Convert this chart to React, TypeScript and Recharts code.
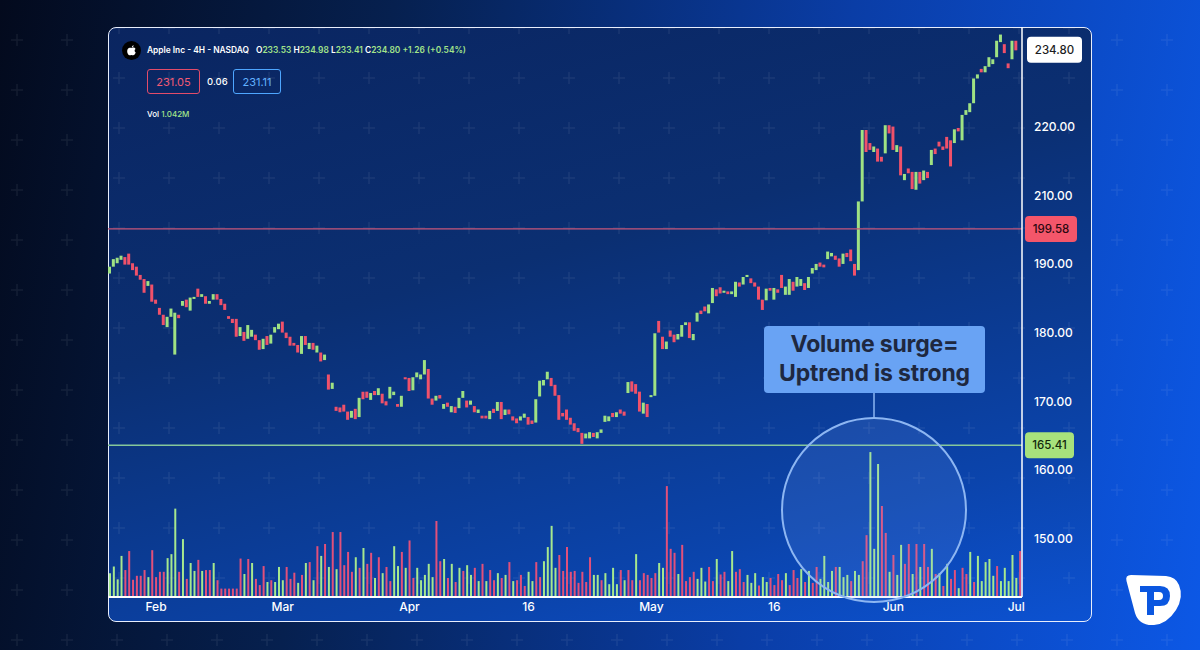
import React from 'react';
import { ComposedChart, Bar, XAxis, YAxis, ReferenceLine, Cell } from 'recharts';

// 4H candles, Feb - Jul (open / close per candle)
const opens = [
  188.6, 189.6, 190.1, 190.6, 191.0, 191.5, 190.1, 189.6, 188.4, 187.8,
  186.8, 187.0, 184.8, 183.6, 182.6, 180.8, 182.3, 176.8, 182.6, 183.9,
  184.8, 183.2, 184.9, 186.4, 185.2, 185.3, 184.2, 184.8, 185.6, 184.9,
  184.2, 182.4, 182.0, 182.0, 179.5, 180.1, 179.1, 179.4, 179.7, 178.9,
  177.6, 179.5, 178.4, 180.0, 180.5, 181.6, 180.0, 179.4, 178.5, 178.2,
  176.9, 179.5, 177.6, 178.5, 177.1, 177.1, 176.0, 173.9, 171.8, 169.2,
  169.1, 169.5, 168.5, 167.6, 168.9, 167.7, 171.4, 171.4, 170.2, 171.5,
  170.9, 171.1, 170.0, 170.4, 170.9, 169.6, 169.2, 173.5, 173.4, 171.6,
  173.5, 173.2, 173.9, 174.7, 170.4, 170.1, 170.9, 168.9, 169.8, 168.4,
  169.2, 169.0, 170.5, 170.1, 169.5, 169.3, 168.3, 167.9, 167.9, 167.4,
  168.9, 168.6, 169.9, 168.0, 168.8, 167.8, 167.5, 167.2, 167.6, 167.7,
  167.2, 166.9, 170.7, 172.3, 173.2, 173.4, 172.4, 170.9, 168.3, 168.8,
  167.6, 166.8, 166.1, 165.4, 164.6, 164.6, 165.4, 164.6, 165.4, 167.0,
  167.1, 168.3, 167.7, 168.8, 168.5, 171.2, 172.9, 172.5, 171.4, 168.2,
  169.6, 170.6, 170.8, 181.7, 179.4, 177.6, 180.3, 179.7, 179.0, 179.4,
  181.1, 181.5, 178.9, 181.6, 183.2, 183.8, 182.8, 184.3, 186.3, 186.6,
  185.8, 186.0, 185.6, 185.2, 187.3, 187.0, 188.1, 187.9, 187.3, 186.7,
  184.8, 184.7, 186.5, 184.8, 186.3, 188.4, 185.5, 185.5, 187.4, 186.7,
  186.8, 187.2, 186.5, 188.6, 189.1, 190.2, 189.9, 190.7, 191.1, 191.2,
  190.8, 190.0, 191.6, 192.1, 190.0, 189.1, 199.1, 209.5, 207.6, 206.3,
  206.8, 205.6, 206.1, 210.2, 210.0, 206.3, 207.1, 202.2, 203.9, 203.4,
  200.8, 203.4, 202.2, 203.4, 204.4, 206.8, 207.8, 207.1, 208.5, 208.0,
  207.6, 209.8, 208.0, 211.7, 212.1, 213.4, 217.0, 218.4, 217.9, 218.7,
  219.1, 220.1, 222.3, 222.0, 219.2, 219.8, 222.5,
];

const closes = [
  189.6, 190.7, 190.9, 191.2, 189.9, 189.9, 189.1, 188.3, 187.7, 185.8,
  187.5, 184.5, 184.2, 182.6, 181.1, 182.3, 183.5, 182.9, 182.1, 184.6,
  183.7, 185.1, 185.2, 185.2, 185.6, 184.2, 184.6, 185.6, 184.8, 184.0,
  183.3, 182.0, 181.4, 179.4, 180.8, 178.8, 181.1, 180.4, 178.9, 177.5,
  179.1, 178.2, 179.7, 180.8, 181.3, 180.0, 179.2, 178.1, 178.1, 177.1,
  179.5, 178.2, 178.5, 177.5, 178.1, 175.8, 176.8, 171.7, 172.7, 168.6,
  168.4, 168.5, 167.3, 168.6, 167.4, 170.5, 170.3, 170.5, 171.2, 170.9,
  171.9, 169.7, 169.4, 172.1, 171.4, 169.2, 170.8, 173.2, 171.5, 173.5,
  174.2, 173.9, 176.0, 170.4, 169.5, 170.8, 170.4, 169.6, 169.2, 169.3,
  168.3, 170.5, 171.5, 169.1, 170.1, 168.4, 168.8, 167.5, 167.5, 168.6,
  168.3, 169.9, 167.4, 168.8, 168.1, 167.2, 166.8, 167.8, 168.2, 166.6,
  166.7, 170.3, 173.0, 173.1, 174.3, 172.2, 170.8, 167.3, 167.8, 167.3,
  166.6, 165.7, 165.5, 163.8, 165.3, 165.5, 164.8, 165.5, 165.9, 167.9,
  167.8, 167.7, 168.4, 168.2, 167.9, 172.8, 171.4, 171.1, 168.5, 169.8,
  167.7, 170.9, 179.9, 180.0, 177.6, 178.7, 179.4, 178.6, 179.8, 181.1,
  181.5, 179.2, 179.8, 182.9, 182.7, 183.1, 184.1, 186.5, 185.3, 185.7,
  186.1, 185.6, 186.0, 187.4, 186.7, 188.1, 188.4, 187.2, 186.7, 184.8,
  183.3, 186.4, 186.1, 186.5, 185.8, 186.5, 186.7, 187.8, 186.1, 188.1,
  187.8, 186.2, 188.1, 189.4, 190.0, 189.6, 189.5, 191.8, 191.6, 190.6,
  189.6, 191.5, 191.0, 190.4, 188.3, 199.1, 209.5, 206.3, 206.6, 207.1,
  204.9, 204.9, 210.2, 209.0, 206.6, 207.3, 202.9, 203.1, 203.2, 200.9,
  203.4, 201.7, 203.6, 202.5, 206.6, 206.0, 207.1, 206.6, 206.8, 204.2,
  209.6, 209.3, 211.7, 212.4, 213.4, 217.0, 217.6, 217.9, 218.8, 220.1,
  219.8, 222.5, 223.4, 220.7, 218.5, 222.5, 221.1,
];

// volume in millions
const volumes = [
  0.54, 0.69, 0.40, 0.93, 0.61, 1.04, 0.39, 0.48, 0.48, 0.61,
  0.45, 1.06, 0.45, 0.57, 0.57, 0.88, 0.97, 2.00, 0.57, 1.31,
  0.41, 0.77, 0.59, 0.84, 0.59, 0.61, 0.61, 0.77, 0.38, 0.19,
  0.19, 0.19, 0.19, 0.19, 0.87, 0.52, 0.86, 0.77, 0.41, 0.27,
  0.70, 0.34, 0.38, 0.34, 0.68, 0.38, 0.68, 0.41, 0.55, 0.32,
  0.50, 0.77, 0.79, 0.38, 1.15, 0.93, 1.20, 0.68, 1.47, 0.63,
  1.47, 0.72, 1.02, 0.57, 0.90, 0.66, 1.11, 0.75, 1.00, 0.43,
  0.90, 0.54, 0.68, 0.36, 1.15, 0.70, 1.02, 0.66,
  1.28, 0.43, 0.66, 0.38, 0.50, 0.75, 0.45, 1.72, 0.81, 0.86,
  0.43, 0.75, 0.34, 0.66, 0.59, 0.72, 0.50, 0.66, 0.36, 0.75,
  0.36, 0.61, 0.38, 0.54, 0.43, 0.50, 0.79, 0.36, 0.38, 0.50,
  0.25, 0.57, 0.36, 0.79, 0.45, 0.81, 1.13, 1.61, 0.66, 0.95,
  0.59, 1.13, 0.57, 0.59, 0.32, 0.57, 0.34, 0.90, 0.50, 0.50,
  0.38, 0.54, 0.29, 0.66, 0.29, 0.61, 0.38, 0.61, 0.38, 0.97,
  0.38, 0.54, 0.50, 0.43, 0.54, 0.77, 0.66, 2.51, 1.09, 1.00,
  0.52, 1.18, 0.36, 0.45, 0.57, 0.41, 0.66,
  0.35, 0.68, 0.36, 0.86, 0.51, 0.57, 0.36, 1.04, 0.57, 0.63,
  0.34, 0.50, 0.32, 0.54, 0.26, 0.45, 0.34, 0.43, 0.27, 0.52,
  0.38, 0.54, 0.27, 0.61, 0.43, 0.63, 0.34, 0.59, 0.32, 0.68,
  0.41, 0.93, 0.34, 0.59, 0.68, 0.68, 0.45, 0.50, 0.36, 0.59,
  0.50, 0.81, 1.40, 3.28, 1.09, 3.01, 2.06, 1.45, 0.57, 0.95,
  0.50, 1.18, 0.75, 1.20, 0.52, 1.20, 0.68, 1.20, 0.68, 1.09,
  0.52, 0.54, 0.25, 0.75, 0.41, 0.61, 0.20, 0.66, 0.52, 1.02,
  0.34, 0.93, 0.36, 0.79, 0.86, 0.48, 0.70, 0.36, 0.66, 0.36,
  0.95, 0.43, 1.04,
];

// 1 = up (green) volume bar, 0 = down (red)
const volumeUp = [
  1, 1, 1, 1, 0, 0, 0, 0, 0, 0, 1, 0, 0, 0, 0, 1, 1, 1, 0, 1,
  0, 1, 1, 0, 1, 0, 0, 1, 0, 0, 0, 0, 0, 0, 0, 1, 0, 1, 0, 0,
  0, 1, 0, 1, 1, 1, 0, 0, 0, 1, 0, 1, 0, 1, 0, 1, 0, 1, 0, 1,
  0, 0, 0, 0, 1, 0, 1, 0, 0, 1, 0, 1, 0, 0, 1, 1, 0, 1,
  0, 0, 1, 1, 1, 1, 1, 0, 0, 1, 0, 1, 0, 1, 0, 1, 1, 0, 1, 0,
  1, 0, 0, 1, 0, 1, 0, 1, 0, 0, 0, 1, 1, 0, 0, 1, 1, 1, 1, 0,
  0, 0, 0, 0, 0, 0, 0, 0, 1, 1, 0, 1, 1, 1, 1, 0, 1, 0, 0, 1,
  0, 0, 0, 0, 0, 1, 1, 0, 0, 0, 1, 0, 0, 0, 0, 1, 1,
  1, 0, 0, 1, 0, 0, 1, 1, 0, 0, 0, 1, 1, 1, 0, 1, 1, 0, 0, 0,
  0, 1, 0, 0, 0, 1, 0, 1, 0, 0, 1, 1, 1, 1, 0, 1, 1, 1, 0, 1,
  1, 0, 0, 1, 1, 1, 0, 0, 1, 0, 1, 1, 0, 0, 1, 0, 1, 0, 0, 1,
  0, 1, 0, 1, 0, 0, 1, 0, 0, 1, 0, 1, 1, 1, 1, 1, 0, 1, 1, 1,
  1, 1, 0,
];

const dateTickIdx = [12, 45, 78, 109, 141, 173, 204, 236];
const dateTickText = ['Feb', 'Mar', 'Apr', '16', 'May', '16', 'Jun', 'Jul'];

const priceTicks = [150, 160, 170, 180, 190, 200, 210];
const priceTickText = ['150.00', '160.00', '170.00', '180.00', '190.00', '210.00', '220.00'];

const levelValues = [195.1, 163.6];
const levelTexts = ['199.58', '165.41'];
const lastPrice = 221.2;
const lastPriceText = '234.80';

const GREEN = '#9fe283';
const RED = '#f0516a';
const VOL_GREEN = '#a6e88e';
const VOL_RED = '#e2507a';

const rows = volumes.map((v, i) => ({
  i,
  vol: v,
  body: i < opens.length ? [Math.min(opens[i], closes[i]), Math.max(opens[i], closes[i])] : undefined,
}));

function PriceBadge(props: any) {
  const { viewBox, text, fill, color, w, dx } = props;
  const x = viewBox.x + viewBox.width + dx;
  const y = viewBox.y;
  return (
    <g>
      <rect x={x} y={y - 13} width={w} height={26} rx={4} fill={fill} />
      <text x={x + w / 2} y={y} dy="0.36em" textAnchor="middle" fontSize={11.5} fontWeight={500} fill={color}>
        {text}
      </text>
    </g>
  );
}

function Crosses({ w, h, ox, oy }: { w: number; h: number; ox: number; oy: number }) {
  const marks = [];
  for (let x = ox; x < w; x += 50) {
    for (let y = oy; y < h; y += 50) {
      marks.push(<path key={x + '-' + y} d={`M${x - 6} ${y}H${x + 6}M${x} ${y - 6}V${y + 6}`} />);
    }
  }
  return (
    <svg width={w} height={h} style={{ position: 'absolute', left: 0, top: 0 }}>
      <g stroke="#ffffff" strokeOpacity={0.07} strokeWidth={1.5}>{marks}</g>
    </svg>
  );
}

function AppleLogo() {
  return (
    <svg width={19} height={19} viewBox="0 0 18 18" style={{ position: 'absolute', left: 122, top: 41 }}>
      <circle cx={9} cy={9} r={9} fill="#000" />
      <path
        d="M9.2 6.5C10.2 5.9 12.2 6 12.8 7.6C11.6 8.3 11.7 10.3 13 10.9C12.5 12.3 11.6 13.6 10.6 13.6C9.9 13.6 9.6 13.2 8.9 13.2C8.2 13.2 7.9 13.6 7.2 13.6C6.1 13.6 4.9 11.5 4.9 9.6C4.9 7.6 6.2 6.3 7.6 6.4C8.3 6.4 8.7 6.7 9.2 6.5Z"
        fill="#fff"
      />
      <path d="M9.3 5.9C9.3 4.9 10.1 4.1 11 4C11.1 5 10.2 5.9 9.3 5.9Z" fill="#fff" />
    </svg>
  );
}

export default function App() {
  const font = 'Inter, "Noto Sans", sans-serif';
  return (
    <div
      style={{
        position: 'absolute',
        left: 0,
        top: 0,
        width: 1200,
        height: 650,
        overflow: 'hidden',
        fontFamily: font,
        background: 'linear-gradient(100deg, #030a1d 0%, #06204f 30%, #0a3da6 65%, #0c58e6 100%)',
      }}
    >
      <Crosses w={1200} h={650} ox={17} oy={40} />

      {/* chart panel */}
      <div
        style={{
          position: 'absolute',
          left: 108,
          top: 27,
          width: 984,
          height: 595,
          boxSizing: 'border-box',
          border: '1.5px solid #e8eefc',
          borderRadius: 8,
          overflow: 'hidden',
          background: 'linear-gradient(165deg, #0a2560 0%, #0b2f72 40%, #0b44ac 80%, #0c52d2 100%)',
        }}
      >
        <Crosses w={984} h={595} ox={10} oy={0} />
      </div>

      <div style={{ position: 'absolute', left: 108, top: 27 }}>
        <ComposedChart width={984} height={596} data={rows} margin={{ top: 0, right: 0, bottom: 0, left: 0 }}>
          <XAxis
            xAxisId="v"
            dataKey="i"
            ticks={dateTickIdx}
            interval={0}
            tickFormatter={(v: number) => dateTickText[dateTickIdx.indexOf(v)]}
            axisLine={{ stroke: '#ffffff', strokeWidth: 2 }}
            tickLine={false}
            tickSize={0}
            tickMargin={5}
            height={26}
            tick={{ fill: '#ffffff', fontSize: 12, fontWeight: 500, fontFamily: font }}
          />
          <XAxis xAxisId="c" dataKey="i" hide height={0} />
          <YAxis
            yAxisId="price"
            orientation="right"
            domain={[141.5, 224.5]}
            allowDataOverflow
            ticks={priceTicks}
            interval={0}
            tickFormatter={(v: number) => priceTickText[priceTicks.indexOf(v)]}
            width={70}
            axisLine={{ stroke: '#ffffff', strokeWidth: 1.5 }}
            tickLine={false}
            tickSize={0}
            tickMargin={12}
            tick={{ fill: '#ffffff', fontSize: 12, fontWeight: 500, fontFamily: font, textAnchor: 'start' }}
          />
          <YAxis yAxisId="vol" hide domain={[0, 12.9]} allowDataOverflow />

          <Bar xAxisId="v" yAxisId="vol" dataKey="vol" barSize={2} isAnimationActive={false}>
            {rows.map((r) => (
              <Cell key={r.i} fill={volumeUp[r.i] ? VOL_GREEN : VOL_RED} />
            ))}
          </Bar>

          <ReferenceLine
            xAxisId="v"
            yAxisId="price"
            y={levelValues[0]}
            stroke="#c7577a"
            strokeWidth={1.3}
            label={<PriceBadge text={levelTexts[0]} fill="#f4566a" color="#2c0810" w={52} dx={3} />}
          />
          <ReferenceLine
            xAxisId="v"
            yAxisId="price"
            y={levelValues[1]}
            stroke="#86c79a"
            strokeWidth={1.3}
            label={<PriceBadge text={levelTexts[1]} fill="#a7e27c" color="#13280c" w={49} dx={3} />}
          />
          <ReferenceLine
            xAxisId="v"
            yAxisId="price"
            y={lastPrice}
            stroke="none"
            label={<PriceBadge text={lastPriceText} fill="#ffffff" color="#1c1c22" w={55} dx={5} />}
          />

          <Bar xAxisId="c" yAxisId="price" dataKey="body" barSize={3} isAnimationActive={false}>
            {rows.map((r) => (
              <Cell key={r.i} fill={r.i < opens.length && closes[r.i] >= opens[r.i] ? GREEN : RED} />
            ))}
          </Bar>
        </ComposedChart>
      </div>

      {/* header */}
      <AppleLogo />
      <div style={{ position: 'absolute', left: 147, top: 45, fontSize: 8.4, fontWeight: 600, color: '#ffffff', whiteSpace: 'nowrap' }}>
        Apple Inc - 4H - NASDAQ
        <span style={{ marginLeft: 7 }}>
          O<span style={{ color: '#a3e58a' }}>233.53</span> H<span style={{ color: '#a3e58a' }}>234.98</span>{' '}
          L<span style={{ color: '#a3e58a' }}>233.41</span> C<span style={{ color: '#a3e58a' }}>234.80 +1.26 (+0.54%)</span>
        </span>
      </div>
      <div
        style={{
          position: 'absolute', left: 147, top: 69, width: 53, height: 25, boxSizing: 'border-box',
          border: '1px solid #e24c6a', borderRadius: 3, color: '#f25a74', fontSize: 11,
          display: 'flex', alignItems: 'center', justifyContent: 'center',
        }}
      >
        231.05
      </div>
      <div style={{ position: 'absolute', left: 207, top: 76, fontSize: 9.5, color: '#ffffff', fontWeight: 500 }}>0.06</div>
      <div
        style={{
          position: 'absolute', left: 233, top: 69, width: 48, height: 25, boxSizing: 'border-box',
          border: '1px solid #4ea6ff', borderRadius: 3, color: '#62b2ff', fontSize: 11,
          display: 'flex', alignItems: 'center', justifyContent: 'center',
        }}
      >
        231.11
      </div>
      <div style={{ position: 'absolute', left: 147, top: 109, fontSize: 8, color: '#ffffff', fontWeight: 500 }}>
        Vol <span style={{ color: '#a3e58a' }}>1.042M</span>
      </div>

      {/* annotation */}
      <svg width={1200} height={650} style={{ position: 'absolute', left: 0, top: 0, pointerEvents: 'none' }}>
        <line x1={874} y1={393} x2={874} y2={418} stroke="#8db6f2" strokeWidth={1.5} />
        <circle cx={874} cy={510} r={92} fill="rgba(140,180,255,0.13)" stroke="#8db6f2" strokeWidth={2} />
        <g transform="translate(1124,572)">
          <path d="M7 3Q1 3 2.5 9L11 41Q15 54 30 53Q43 52 52 38Q60 25 55 13Q52 5 42 4Z" fill="#ffffff" />
          <path d="M16 14H36Q46 14 46 24Q46 34 36 34H30V43H23V20H16Z M30 20V28H35Q39 28 39 24Q39 20 35 20Z" fill="#0b57e0" fillRule="evenodd" />
        </g>
      </svg>
      <div
        style={{
          position: 'absolute', left: 764, top: 326, width: 221, height: 67, boxSizing: 'border-box',
          background: '#69a3f4', borderRadius: 4, color: '#1e2840', fontWeight: 700, fontSize: 23,
          lineHeight: '29px', textAlign: 'center', paddingTop: 4, letterSpacing: -0.2,
        }}
      >
        Volume surge=
        <br />
        Uptrend is strong
      </div>
    </div>
  );
}
